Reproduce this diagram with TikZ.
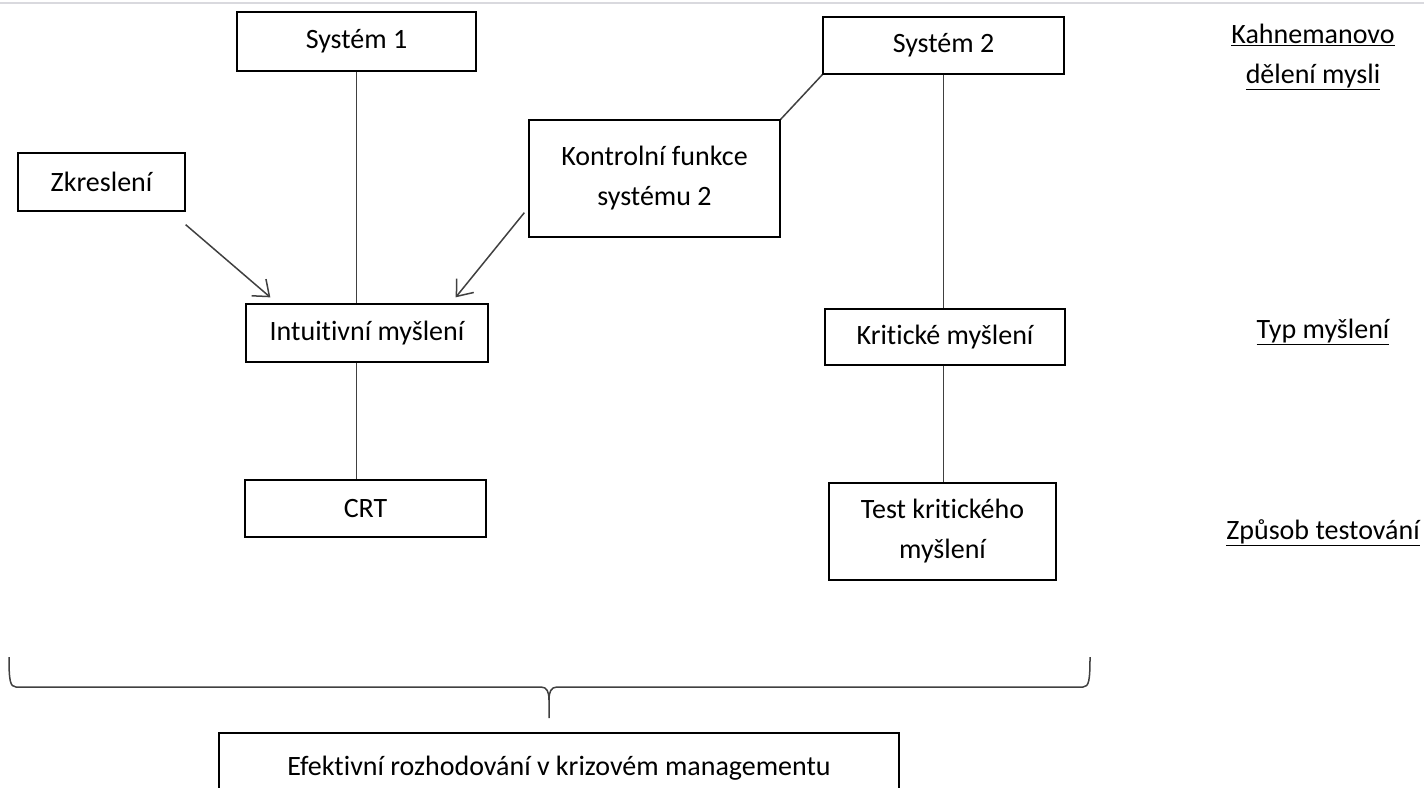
\documentclass[tikz,border=0pt]{standalone}
\usepackage{fontspec}
\setmainfont{Carlito}[Ligatures=NoCommon]
\usetikzlibrary{arrows.meta,calc}
\definecolor{LineClr}{rgb}{0.25,0.25,0.25}
\definecolor{FrameClr}{rgb}{0.85,0.85,0.87}

\begin{document}
\begin{tikzpicture}[x=1pt,y=-1pt,
  box/.style={draw=black,line width=1.3pt,fill=white,inner sep=0pt,align=center,
    font=\fontsize{28}{40}\selectfont},
  level/.style={inner sep=0pt,align=center,font=\fontsize{28}{40}\selectfont},
  link/.style={draw=LineClr,line width=1.5pt},
  push/.style={link,-{Straight Barb[length=14pt,width=22pt,line width=1.5pt]}}]
\useasboundingbox (0,0) rectangle (1424,787);
\draw[FrameClr,line width=1.5pt] (0,3) -- (1424,3);

\node[box,minimum width=239,minimum height=59] (Sys1) at (356.5,41.5) {Systém 1};
\node[box,minimum width=241,minimum height=57] (Sys2) at (943.5,45.5) {Systém 2};
\node[box,minimum width=251,minimum height=117] (Kon) at (654.5,178.5) {Kontrolní funkce\\systému 2};
\node[box,minimum width=167,minimum height=58] (Zkr) at (101.5,182) {Zkreslení};
\node[box,minimum width=242,minimum height=58] (Int) at (367,333) {Intuitivní myšlení};
\node[box,minimum width=240,minimum height=56] (Kri) at (945,337) {Kritické myšlení};
\node[box,minimum width=241,minimum height=57] (Crt) at (365.5,508.5) {CRT};
\node[box,minimum width=227,minimum height=97] (Tkm) at (942.5,531.5) {Test kritického\\myšlení};
\node[box,minimum width=680,minimum height=70] (Eff) at (559,768) {Efektivní rozhodování v krizovém managementu};

\node[level] (Kah) at (1313,57) {\underline{Kahnemanovo}\\\underline{dělení mysli}};
\node[level] (Typ) at (1323,332) {\underline{Typ myšlení}};
\node[level] (Zpu) at (1323,533) {\underline{Způsob testování}};

\draw[link] (Sys1.south) -- (Sys1.south |- Int.north);
\draw[link] (Sys2.south) -- (Sys2.south |- Kri.north);
\draw[link] (Kon.north east) -- (Sys2.south west);
\draw[link] (Int.south -| Sys1.south) -- (Crt.north -| Sys1.south);
\draw[link] (Kri.south -| Sys2.south) -- (Tkm.north -| Sys2.south);

\draw[push] ($(Zkr.south east)+(0,13)$) -- ($(Int.north west)+(25,-6)$);
\draw[push] ($(Kon.south west)+(-4,-25)$) -- ($(Int.north east)+(-33,-6)$);

\coordinate (BrL) at (9,657);
\coordinate (BrR) at (1090,657);
\coordinate (BrTip) at (549,718);
\draw[link] (BrL) .. controls (9,680) and (10,687) .. (16,687) -- (541,687)
  .. controls (547,687) and (549,692) .. (549,700) -- (BrTip);
\draw[link] (BrR) .. controls (1090,680) and (1089,687) .. (1083,687) -- (557,687)
  .. controls (551,687) and (549,692) .. (549,700);
\end{tikzpicture}
\end{document}
